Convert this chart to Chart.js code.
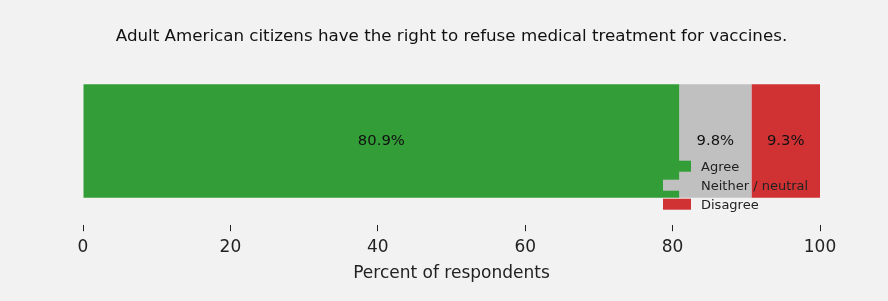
<!DOCTYPE html>
<html>
<head>
<meta charset="utf-8">
<script src="https://cdn.jsdelivr.net/npm/chart.js@4/dist/chart.umd.min.js"></script>
<style>
  html, body { margin: 0; padding: 0; background: #f2f2f2; }
  #wrap { width: 888px; height: 301px; }
</style>
</head>
<body>
<div id="wrap"><canvas id="grafico"></canvas></div>
<script>
// dados
var categorias = ['Adult American citizens'];
var rotulos = ['Agree', 'Neither / neutral', 'Disagree'];
var valores = [80.9, 9.8, 9.3];
var cores = ['#339e37', '#c0c0c0', '#d03234'];
var marcas = [0, 20, 40, 60, 80, 100];

var fonte = "'DejaVu Sans', sans-serif";

// rótulos de porcentagem dentro das barras
var rotulosBarras = {
    id: 'rotulosBarras',
    afterDatasetsDraw: function (chart) {
        var ctx = chart.ctx;
        ctx.save();
        ctx.font = '14.8px ' + fonte;
        ctx.fillStyle = '#111';
        ctx.textAlign = 'center';
        ctx.textBaseline = 'middle';
        chart.data.datasets.forEach(function (ds, i) {
            var el = chart.getDatasetMeta(i).data[0];
            var cx = (el.x + el.base) / 2;
            ctx.fillText(ds.data[0].toFixed(1) + '%', cx, el.y);
        });
        ctx.restore();
    }
};

// legenda sobreposta no canto inferior direito
var legendaInterna = {
    id: 'legendaInterna',
    afterDraw: function (chart) {
        var ctx = chart.ctx;
        var area = chart.chartArea;
        var x0 = area.right - 157;
        var y0 = area.bottom - 59;
        ctx.save();
        ctx.font = '13px ' + fonte;
        ctx.textBaseline = 'middle';
        ctx.textAlign = 'left';
        chart.data.datasets.forEach(function (ds, i) {
            var y = y0 + i * 19;
            ctx.fillStyle = ds.backgroundColor;
            ctx.fillRect(x0, y - 5.5, 28, 11);
            ctx.fillStyle = '#222';
            ctx.fillText(ds.label, x0 + 38, y + 1);
        });
        ctx.restore();
    }
};

var ctx = document.getElementById('grafico').getContext('2d');
var grafico = new Chart(ctx, {
    type: 'bar',
    data: {
        labels: categorias,
        datasets: rotulos.map(function (r, i) {
            return {
                label: r,
                data: [valores[i]],
                backgroundColor: cores[i],
                borderWidth: 0,
                barPercentage: 0.675,
                categoryPercentage: 1.0
            };
        })
    },
    options: {
        indexAxis: 'y',
        responsive: true,
        maintainAspectRatio: false,
        animation: false,
        layout: {
            padding: { left: 83, right: 68, top: 0, bottom: 17 }
        },
        scales: {
            x: {
                stacked: true,
                min: 0,
                max: 100,
                border: { display: false },
                grid: {
                    drawOnChartArea: false,
                    drawTicks: true,
                    tickLength: 6,
                    color: '#222'
                },
                afterBuildTicks: function (axis) {
                    axis.ticks = marcas.map(function (v) { return { value: v }; });
                },
                ticks: {
                    color: '#222',
                    padding: 6,
                    font: { size: 17, family: fonte }
                },
                title: {
                    display: true,
                    text: 'Percent of respondents',
                    color: '#222',
                    padding: { top: 0, bottom: 0 },
                    font: { size: 17, family: fonte }
                }
            },
            y: {
                stacked: true,
                display: false
            }
        },
        plugins: {
            legend: { display: false },
            tooltip: { enabled: false },
            title: {
                display: true,
                text: 'Adult American citizens have the right to refuse medical treatment for vaccines.',
                color: '#111',
                font: { size: 16.7, weight: 'normal', family: fonte },
                padding: { top: 27, bottom: 10 }
            }
        }
    },
    plugins: [rotulosBarras, legendaInterna]
});
</script>
</body>
</html>
